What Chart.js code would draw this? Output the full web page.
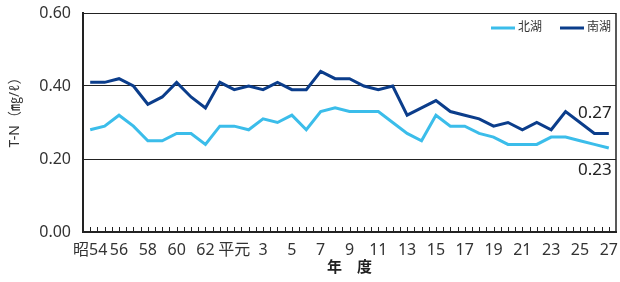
<!DOCTYPE html>
<html>
<head>
<meta charset="utf-8">
<script src="https://cdn.jsdelivr.net/npm/chart.js@4"></script>
<style>
  html, body { margin: 0; padding: 0; background: #fff; }
  #wrap { width: 620px; height: 282px; }
</style>
</head>
<body>
<div id="wrap"><canvas id="myChart" width="620" height="282"></canvas></div>
<script>
// 年度 (昭和54 〜 平成27)
const years = ['昭54', '55', '56', '57', '58', '59', '60', '61', '62', '63',
  '平元', '2', '3', '4', '5', '6', '7', '8', '9', '10', '11', '12', '13', '14',
  '15', '16', '17', '18', '19', '20', '21', '22', '23', '24', '25', '26', '27'];

// 北湖 T-N
const kitako = [0.28, 0.29, 0.32, 0.29, 0.25, 0.25, 0.27, 0.27, 0.24, 0.29,
  0.29, 0.28, 0.31, 0.30, 0.32, 0.28, 0.33, 0.34, 0.33, 0.33, 0.33, 0.30, 0.27, 0.25,
  0.32, 0.29, 0.29, 0.27, 0.26, 0.24, 0.24, 0.24, 0.26, 0.26, 0.25, 0.24, 0.23];

// 南湖 T-N
const nanko = [0.41, 0.41, 0.42, 0.40, 0.35, 0.37, 0.41, 0.37, 0.34, 0.41,
  0.39, 0.40, 0.39, 0.41, 0.39, 0.39, 0.44, 0.42, 0.42, 0.40, 0.39, 0.40, 0.32, 0.34,
  0.36, 0.33, 0.32, 0.31, 0.29, 0.30, 0.28, 0.30, 0.28, 0.33, 0.30, 0.27, 0.27];

const yTicks = [0, 0.2, 0.4, 0.6];

const FONT = "'Noto Sans', 'Noto Sans CJK JP', sans-serif";
const LIGHT = '#3bbdea';
const DARK = '#0b3d8b';

// 内向きの目盛り、枠線、凡例、最終値ラベル
const extras = {
    id: 'extras',
    afterDraw(chart) {
        const ctx = chart.ctx;
        const area = chart.chartArea;
        const xs = chart.scales.x;
        const ys = chart.scales.y;
        ctx.save();

        // 右枠
        ctx.strokeStyle = '#222';
        ctx.lineWidth = 1.5;
        ctx.beginPath();
        ctx.moveTo(area.right, area.top);
        ctx.lineTo(area.right, area.bottom);
        ctx.stroke();

        // x軸の目盛り（内向き）
        ctx.lineWidth = 1;
        ctx.strokeStyle = '#222';
        ctx.beginPath();
        for (let i = 0; i < years.length; i++) {
            [i, i + 0.5].forEach(v => {
                const px = Math.round(xs.getPixelForValue(v)) + 0.5;
                if (px < area.right - 1) {
                    ctx.moveTo(px, area.bottom);
                    ctx.lineTo(px, area.bottom - 5);
                }
            });
        }
        ctx.stroke();

        // 凡例
        ctx.font = '12px ' + FONT;
        ctx.textBaseline = 'middle';
        ctx.textAlign = 'left';
        const legY = area.top + 15;
        let lx = area.right - 125;
        chart.data.datasets.forEach(ds => {
            ctx.strokeStyle = ds.borderColor;
            ctx.lineWidth = 3;
            ctx.beginPath();
            ctx.moveTo(lx, legY);
            ctx.lineTo(lx + 24, legY);
            ctx.stroke();
            ctx.fillStyle = '#333';
            ctx.fillText(ds.label, lx + 27, legY);
            lx += 69;
        });

        // 最終値
        const last = years.length - 1;
        ctx.font = '17px ' + FONT;
        ctx.fillStyle = '#222';
        ctx.textAlign = 'right';
        const ex = xs.getPixelForValue(last) + 3;
        ctx.fillText(nanko[last].toFixed(2), ex, ys.getPixelForValue(nanko[last]) - 20);
        ctx.fillText(kitako[last].toFixed(2), ex, ys.getPixelForValue(kitako[last]) + 22);

        // y軸タイトル
        ctx.translate(15, 109);
        ctx.rotate(-Math.PI / 2);
        ctx.textAlign = 'center';
        ctx.font = '14px ' + FONT;
        ctx.fillStyle = '#333';
        ctx.fillText('T-N（㎎/ℓ）', 0, 0);
        ctx.restore();
    }
};

new Chart(document.getElementById('myChart'), {
    type: 'line',
    data: {
        labels: years,
        datasets: [{
            label: '北湖',
            data: kitako,
            borderColor: LIGHT,
            borderWidth: 3,
            pointRadius: 0,
            tension: 0
        }, {
            label: '南湖',
            data: nanko,
            borderColor: DARK,
            borderWidth: 3,
            pointRadius: 0,
            tension: 0
        }]
    },
    options: {
        responsive: false,
        animation: false,
        layout: { padding: { top: 13, right: 4, left: 0, bottom: 0 } },
        plugins: { legend: { display: false }, tooltip: { enabled: false } },
        scales: {
            x: {
                offset: true,
                grid: { display: false, drawTicks: false },
                border: { display: true, color: '#222', width: 2 },
                ticks: {
                    autoSkip: false,
                    maxRotation: 0,
                    padding: 9,
                    color: '#333',
                    font: { family: FONT, size: 16 },
                    callback: (v, i) => (i % 2 === 0 ? years[i] : '')
                },
                title: {
                    display: true,
                    text: '年　度',
                    color: '#222',
                    font: { family: FONT, size: 15, weight: 'bold' },
                    padding: { top: 0, bottom: 5 }
                },
                afterFit: s => {
                    s.height = 50;
                    s.paddingLeft = 0;
                    s.paddingRight = 0;
                }
            },
            y: {
                min: 0,
                max: 0.6,
                afterBuildTicks: s => { s.ticks = yTicks.map(v => ({ value: v })); },
                grid: { color: '#222', lineWidth: 1, drawTicks: false },
                border: { display: true, color: '#222', width: 2 },
                ticks: {
                    padding: 12,
                    color: '#333',
                    font: { family: FONT, size: 16 },
                    callback: v => v.toFixed(2)
                },
                afterFit: s => {
                    s.width = 83;
                    s.paddingTop = 0;
                    s.paddingBottom = 0;
                }
            }
        }
    },
    plugins: [extras]
});
</script>
</body>
</html>
